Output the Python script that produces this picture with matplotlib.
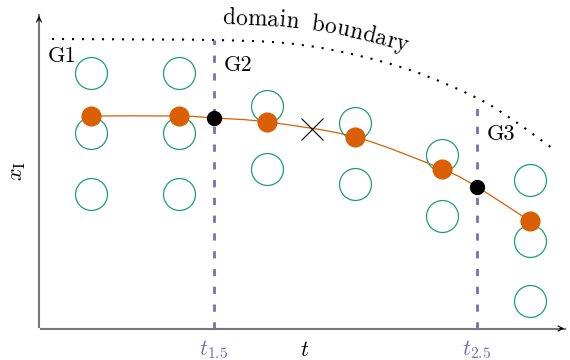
import numpy as np
import matplotlib
matplotlib.use("Agg")
import matplotlib.pyplot as plt
from matplotlib.path import Path
from matplotlib.patches import PathPatch
from matplotlib import font_manager
from matplotlib.ft2font import FT2Font

plt.rcParams['mathtext.fontset'] = 'cm'

GREEN = '#1b9e77'
ORANGE = '#d95f02'
PURPLE = '#7570b3'
AXGRAY = '#777777'

# diagram coordinates (1 unit = 1 px, y up)
t_cols = [91, 179, 267, 355, 442, 530]
grid_x = [[287, 227, 166], [287, 227, 166], [254, 191],
          [237, 176], [205, 144], [180, 119, 59]]
sol_x = [244, 244, 238, 223, 191, 139]
t_half = [214, 477]
x_half = [242, 173]
half_labels = [r'$t_{1.5}$', r'$t_{2.5}$']
cross_t, cross_x = 312, 231
bound_t = [52, 150, 214, 285, 347, 413, 477, 513, 552]
bound_x = [321, 320.5, 320, 317, 307, 289, 262, 240, 212]
group_labels = ['G1', 'G2', 'G3']
group_pos = [(48, 298), (224, 289), (487, 220)]


def smooth_path(xs, ys):
    # catmull-rom through the points, as cubic bezier pieces
    pts = np.column_stack([xs, ys]).astype(float)
    p = np.vstack([pts[0], pts, pts[-1]])
    verts, codes = [pts[0]], [Path.MOVETO]
    for i in range(1, len(p) - 2):
        verts += [p[i] + (p[i + 1] - p[i - 1]) / 6,
                  p[i + 1] - (p[i + 2] - p[i]) / 6,
                  p[i + 1]]
        codes += [Path.CURVE4] * 3
    return Path(verts, codes)


def text_on_path(ax, path, s, offset, start_x, size, space=1.0, family='cmr10'):
    # letters spaced along the path itself, raised by offset
    poly = path.to_polygons(closed_only=False)[0]
    seg = np.diff(poly, axis=0)
    tan = seg / np.hypot(seg[:, 0], seg[:, 1])[:, None]
    mid = (poly[:-1] + poly[1:]) / 2
    d = np.r_[0, np.cumsum(np.hypot(*np.diff(mid, axis=0).T))]
    s0 = np.interp(start_x, mid[:, 0], d)
    fp = font_manager.FontProperties(family=family, size=size)
    font = FT2Font(font_manager.findfont(fp))
    font.set_size(size, 72)
    pos = s0
    for ch in s:
        tx = np.interp(pos, d, tan[:, 0])
        ty = np.interp(pos, d, tan[:, 1])
        px = np.interp(pos, d, mid[:, 0]) - offset * ty
        py = np.interp(pos, d, mid[:, 1]) + offset * tx
        ang = np.degrees(np.arctan2(ty, tx))
        ax.text(px, py, ch, fontproperties=fp, rotation=ang,
                rotation_mode='anchor', ha='left', va='baseline')
        adv = font.load_char(ord(ch)).linearHoriAdvance / 65536
        if ch == ' ':
            adv *= space
        pos += adv * 100 / 72


fig = plt.figure(figsize=(5.7, 3.6), dpi=100)
ax = fig.add_axes([0, 0, 1, 1])
ax.set_xlim(0, 570)
ax.set_ylim(0, 360)
ax.axis('off')

# axes with arrows
ax.plot([39, 39], [33, 345], color=AXGRAY, lw=1.5)
ax.plot([41, 565], [31.5, 31.5], color=AXGRAY, lw=1.5)
ax.annotate('', xy=(39, 347), xytext=(39, 337),
            arrowprops=dict(arrowstyle='->', color='black', lw=0.8, mutation_scale=9))
ax.annotate('', xy=(567, 31.5), xytext=(557, 31.5),
            arrowprops=dict(arrowstyle='->', color='black', lw=0.8, mutation_scale=9))

# domain boundary
bpath = smooth_path(bound_t, bound_x)
ax.add_patch(PathPatch(bpath, fill=False, color='black', lw=1.5,
                       ls=(0, (1, 3.8))))
text_on_path(ax, bpath, 'domain boundary', 16, 222, 16.7, space=1.5)

# dashed verticals up to the boundary
for th in t_half:
    top = np.interp(th, bound_t, bound_x)
    ax.plot([th, th], [31.5, top], color=PURPLE, lw=2.0, ls=(0, (2.6, 3.8)))

# grid nodes
for tc, xs in zip(t_cols, grid_x):
    ax.plot([tc] * len(xs), xs, 'o', ms=23, mfc='none', mec=GREEN, mew=0.9)

# solution curve
st = sorted(t_cols + t_half)
sx = [dict(zip(t_cols + t_half, sol_x + x_half))[k] for k in st]
ax.add_patch(PathPatch(smooth_path(st, sx), fill=False, color=ORANGE, lw=0.9))
ax.plot(cross_t, cross_x, 'x', ms=16, color='black', mew=0.8)
ax.plot(t_cols, sol_x, 'o', ms=13.5, color=ORANGE)
ax.plot(t_half, x_half, 'o', ms=10, color='black')

# labels
for lab, (gx, gy) in zip(group_labels, group_pos):
    ax.text(gx, gy, lab, family='cmr10', fontsize=16, ha='left', va='baseline')
for th, lab in zip(t_half, half_labels):
    ax.text(th, 5, lab, color=PURPLE, fontsize=16, ha='center', va='baseline')
ax.text(305, 4, r'$t$', fontsize=16, ha='center', va='baseline')
ax.text(18, 189, r'$x_{\rm I}$', fontsize=16, rotation=90, ha='center', va='center')

fig.savefig('out.png', dpi=100)
